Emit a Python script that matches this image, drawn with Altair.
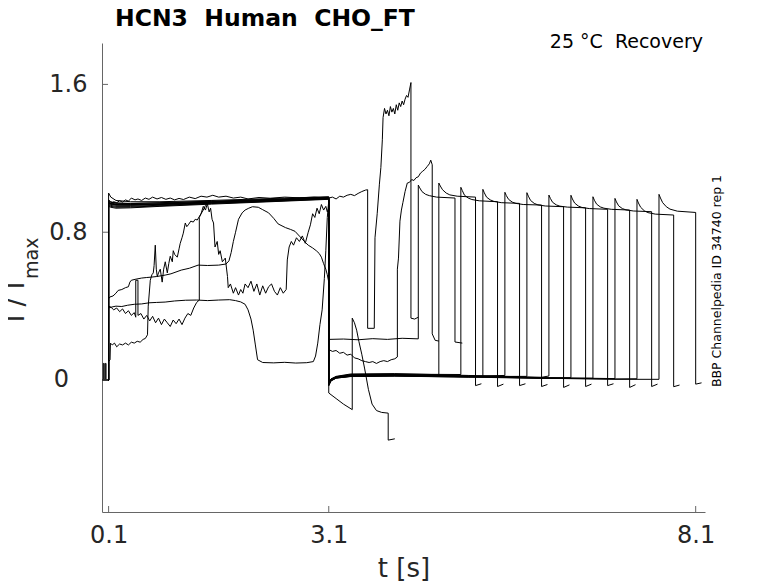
import altair as alt
import pandas as pd

# ---------------- axes / text ----------------
X_DOMAIN = [0.01, 8.227]
Y_DOMAIN = [-0.714, 1.824]
X_TICKS = [0.1, 3.1, 8.1]
Y_TICKS = [0.0, 0.8, 1.6]
Y_ZERO_LABEL = "0"

TITLE = "HCN3\u00a0\u00a0Human\u00a0\u00a0CHO_FT"
NOTE = "25 \u00b0C\u00a0\u00a0Recovery"
SIDE = "BBP Channelpedia ID 34740 rep 1"
X_TITLE = "t [s]"
Y_TITLE_MAIN = "I / I"
Y_TITLE_SUB = "max"

# ---------------- irregular traces (t [s], I/Imax) ----------------
TRACE_H = [(0.0, 0.0), (0.028, 0.0), (0.028, 0.09), (0.04, 0.09), (0.04, 0.0), (0.055, 0.0), (0.055, 0.09),
           (0.065, 0.09), (0.065, 0.0), (0.1, 0.0),
           (0.1, 0.96), (0.13, 0.955), (0.17, 0.965), (0.21, 0.96), (0.25, 0.97), (0.29, 0.963), (0.33, 0.975),
           (0.37, 0.968), (0.41, 0.985), (0.46, 0.975), (0.5, 0.98), (0.55, 0.972), (0.6, 0.985), (0.65, 0.978),
           (0.7, 0.99), (0.76, 0.98), (0.82, 0.988), (0.88, 0.978), (0.94, 0.985), (1.0, 0.975), (1.06, 0.983),
           (1.12, 0.977), (1.2, 0.99), (1.28, 0.982), (1.36, 0.995), (1.44, 0.99), (1.52, 1.0), (1.6, 0.99),
           (1.7, 0.995), (1.8, 0.985), (1.9, 0.99), (2.0, 0.98), (2.15, 0.988), (2.3, 0.984), (2.5, 0.99),
           (2.7, 0.986), (2.9, 0.99), (3.1, 0.985), (3.15, 0.99), (3.2, 0.98), (3.25, 0.995), (3.3, 0.99),
           (3.35, 1.0), (3.4, 1.005), (3.45, 0.998), (3.5, 1.01), (3.55, 1.02), (3.6, 1.028), (3.63, 1.03),
           (3.63, 0.28), (3.72, 0.28), (3.73, 0.77), (3.76, 0.9), (3.79, 1.06), (3.81, 1.15), (3.83, 1.3),
           (3.84, 1.42), (3.86, 1.47), (3.88, 1.44), (3.9, 1.46), (3.92, 1.43), (3.94, 1.48), (3.96, 1.45),
           (3.98, 1.47), (4.0, 1.44), (4.02, 1.49), (4.04, 1.46), (4.06, 1.5), (4.08, 1.48), (4.1, 1.51),
           (4.12, 1.49), (4.14, 1.52), (4.16, 1.54), (4.18, 1.53), (4.2, 1.57), (4.22, 1.61), (4.22, 0.335),
           (4.27, 0.33), (4.32, 0.34)]

TRACE_C = [(0.0, 0.0), (0.1, 0.0), (0.1, 0.44), (0.12, 0.45), (0.16, 0.455), (0.2, 0.47), (0.23, 0.485),
           (0.28, 0.49), (0.33, 0.5), (0.37, 0.505), (0.39, 0.53), (0.41, 0.54), (0.46, 0.545), (0.55, 0.552),
           (0.62, 0.555), (0.68, 0.557), (0.75, 0.56), (0.87, 0.568), (0.95, 0.575), (1.09, 0.595), (1.2, 0.605),
           (1.32, 0.622), (1.45, 0.62), (1.6, 0.622), (1.7, 0.628), (1.74, 0.645), (1.77, 0.69), (1.8, 0.75),
           (1.83, 0.8), (1.87, 0.87), (1.92, 0.905), (1.96, 0.92), (2.01, 0.93), (2.06, 0.938), (2.14, 0.935),
           (2.2, 0.922), (2.28, 0.905), (2.35, 0.875), (2.41, 0.845), (2.51, 0.825), (2.58, 0.815), (2.64, 0.805),
           (2.71, 0.775), (2.78, 0.745), (2.82, 0.73), (2.88, 0.715), (2.93, 0.7), (2.97, 0.685), (3.0, 0.665),
           (3.03, 0.63), (3.06, 0.6), (3.08, 0.57), (3.1, 0.53), (3.1, 0.22), (3.3, 0.222), (3.5, 0.218),
           (3.7, 0.224), (3.9, 0.22), (4.1, 0.226), (4.32, 0.223), (4.32, 1.055), (4.34, 1.04), (4.37, 1.02),
           (4.42, 1.005), (4.47, 0.998), (4.57, 0.99), (4.82, 0.985), (4.82, 0.206), (4.92, 0.2)]

TRACE_G = [(0.0, 0.0), (0.1, 0.0), (0.1, 0.39), (0.14, 0.395), (0.2, 0.4), (0.28, 0.398), (0.36, 0.405),
           (0.45, 0.41), (0.55, 0.412), (0.65, 0.418), (0.75, 0.42), (0.87, 0.422), (1.0, 0.428), (1.15, 0.432),
           (1.3, 0.433), (1.45, 0.43), (1.6, 0.433), (1.75, 0.435), (1.83, 0.43), (1.9, 0.423), (1.96, 0.41),
           (2.0, 0.38), (2.04, 0.33), (2.07, 0.27), (2.1, 0.19), (2.13, 0.11), (2.2, 0.095), (2.35, 0.093),
           (2.5, 0.096), (2.65, 0.092), (2.8, 0.094), (2.89, 0.1), (2.92, 0.13), (2.95, 0.2), (2.98, 0.3),
           (3.01, 0.38), (3.04, 0.55), (3.06, 0.7), (3.08, 0.88), (3.1, 0.97), (3.1, -0.07), (3.2, -0.1),
           (3.3, -0.13), (3.42, -0.16), (3.42, 0.335), (3.45, 0.31), (3.48, 0.27), (3.51, 0.21), (3.55, 0.14),
           (3.59, 0.06), (3.64, -0.05), (3.69, -0.13), (3.75, -0.165), (3.82, -0.175), (3.91, -0.179),
           (3.91, -0.325), (4.0, -0.318)]

TRACE_B = [(0.0, 0.0), (0.1, 0.0), (0.1, 0.4), (0.13, 0.395), (0.17, 0.38), (0.21, 0.39), (0.25, 0.37),
           (0.29, 0.385), (0.33, 0.36), (0.37, 0.375), (0.41, 0.35), (0.45, 0.365), (0.47, 0.34), (0.47, 0.54),
           (0.5, 0.54), (0.5, 0.35), (0.54, 0.36), (0.58, 0.33), (0.62, 0.35), (0.66, 0.32), (0.7, 0.345),
           (0.74, 0.31), (0.78, 0.335), (0.82, 0.3), (0.86, 0.33), (0.9, 0.31), (0.94, 0.29), (0.98, 0.325),
           (1.02, 0.305), (1.06, 0.33), (1.1, 0.3), (1.14, 0.335), (1.18, 0.36), (1.22, 0.35), (1.26, 0.39),
           (1.3, 0.42), (1.336, 0.433), (1.336, 0.88), (1.36, 0.9), (1.39, 0.94), (1.42, 0.92), (1.445, 0.955),
           (1.47, 0.91), (1.49, 0.93), (1.51, 0.87), (1.53, 0.85), (1.55, 0.72), (1.58, 0.75), (1.6, 0.68),
           (1.62, 0.7), (1.65, 0.64), (1.69, 0.66), (1.72, 0.56), (1.73, 0.5), (1.76, 0.52), (1.8, 0.47),
           (1.83, 0.5), (1.87, 0.46), (1.9, 0.49), (1.93, 0.47), (1.96, 0.52), (2.0, 0.5), (2.04, 0.535),
           (2.08, 0.48), (2.12, 0.52), (2.16, 0.46), (2.2, 0.51), (2.24, 0.47), (2.28, 0.505), (2.32, 0.52),
           (2.36, 0.48), (2.4, 0.46), (2.44, 0.5), (2.48, 0.47), (2.52, 0.49), (2.535, 0.65), (2.56, 0.72),
           (2.59, 0.75), (2.62, 0.73), (2.66, 0.77), (2.7, 0.75), (2.74, 0.78), (2.78, 0.74), (2.82, 0.8),
           (2.85, 0.84), (2.88, 0.9), (2.91, 0.88), (2.94, 0.93), (2.97, 0.9), (3.0, 0.95), (3.03, 0.92),
           (3.06, 0.94), (3.08, 0.91), (3.1, 0.93), (3.1, 0.165), (3.15, 0.155), (3.2, 0.16), (3.25, 0.145),
           (3.3, 0.15), (3.35, 0.135), (3.4, 0.14), (3.45, 0.12), (3.5, 0.115), (3.55, 0.105), (3.6, 0.1),
           (3.65, 0.095), (3.7, 0.1), (3.75, 0.09), (3.8, 0.1), (3.85, 0.105), (3.9, 0.1), (3.95, 0.11),
           (4.0, 0.115), (4.035, 0.125), (4.035, 0.6), (4.05, 0.66), (4.07, 0.86), (4.09, 0.92), (4.11, 0.96),
           (4.14, 1.02), (4.17, 1.066), (4.2, 1.07), (4.23, 1.085), (4.26, 1.08), (4.29, 1.095), (4.32, 1.1),
           (4.35, 1.12), (4.38, 1.13), (4.41, 1.14), (4.44, 1.155), (4.47, 1.17), (4.49, 1.19), (4.51, 1.165),
           (4.51, 0.25), (4.55, 0.215), (4.6, 0.211)]

# first pulse of the noisy trace that later behaves like a regular one
TRACE_DF_FIRST = [(0.0, 0.0), (0.1, 0.0), (0.1, 0.1), (0.12, 0.11), (0.125, 0.2), (0.15, 0.19), (0.18, 0.2),
                  (0.21, 0.18), (0.25, 0.195), (0.29, 0.19), (0.33, 0.2), (0.37, 0.19), (0.41, 0.205),
                  (0.45, 0.2), (0.49, 0.21), (0.53, 0.205), (0.57, 0.22), (0.6, 0.225), (0.63, 0.245),
                  (0.64, 0.4), (0.668, 0.54), (0.69, 0.57), (0.709, 0.58), (0.72, 0.62), (0.736, 0.73),
                  (0.75, 0.6), (0.763, 0.56), (0.78, 0.58), (0.804, 0.6), (0.83, 0.53), (0.85, 0.6),
                  (0.872, 0.64), (0.9, 0.58), (0.92, 0.63), (0.94, 0.67), (0.968, 0.64), (0.981, 0.7),
                  (1.0, 0.68), (1.036, 0.665), (1.06, 0.71), (1.076, 0.74), (1.1, 0.77), (1.118, 0.795),
                  (1.145, 0.85), (1.165, 0.83), (1.186, 0.84), (1.22, 0.86), (1.254, 0.855), (1.28, 0.87),
                  (1.308, 0.866), (1.349, 0.893), (1.39, 0.92), (1.42, 0.945), (1.445, 0.96), (1.49, 0.97),
                  (1.6, 0.965), (1.8, 0.97), (2.1, 0.975), (2.5, 0.978), (2.9, 0.982), (3.1, 0.985)]

# ---------------- regular recovery traces ----------------
FIRST_T = [0.1, 0.13, 0.2, 0.4, 0.8, 1.5, 2.3, 3.1]
REG_FIRST = [
    [0.96, 0.955, 0.95, 0.948, 0.952, 0.962, 0.972, 0.985],
    [0.95, 0.945, 0.94, 0.94, 0.946, 0.957, 0.968, 0.982],
    [0.97, 0.962, 0.957, 0.955, 0.958, 0.966, 0.975, 0.988],
    [0.945, 0.94, 0.935, 0.936, 0.943, 0.955, 0.967, 0.98],
    [0.955, 0.95, 0.946, 0.946, 0.95, 0.96, 0.97, 0.984],
    [0.965, 0.958, 0.952, 0.95, 0.954, 0.963, 0.973, 0.986],
    [0.94, 0.935, 0.93, 0.932, 0.94, 0.952, 0.965, 0.978],
    [0.96, 0.953, 0.948, 0.947, 0.951, 0.96, 0.971, 0.984],
    [0.975, 0.965, 0.958, 0.956, 0.96, 0.968, 0.978, 0.99],
    [1.012, 0.99, 0.972, 0.965, 0.965, 0.972, 0.982, 0.992],
]
BASE_T = [3.1, 3.13, 3.2, 3.4, 4.0, 5.0, 6.0, 7.0]
REG_BASE = [
    [-0.02, 0.0, 0.015, 0.025, 0.028, 0.02, 0.012, 0.006],
    [-0.01, 0.005, 0.018, 0.03, 0.032, 0.022, 0.013, 0.007],
    [-0.03, -0.005, 0.01, 0.02, 0.022, 0.016, 0.01, 0.005],
    [-0.015, 0.003, 0.016, 0.027, 0.03, 0.021, 0.013, 0.006],
    [-0.025, -0.002, 0.012, 0.022, 0.026, 0.019, 0.011, 0.006],
    [-0.01, 0.006, 0.02, 0.033, 0.035, 0.025, 0.015, 0.008],
    [-0.02, 0.0, 0.014, 0.024, 0.027, 0.02, 0.012, 0.006],
    [-0.03, -0.004, 0.011, 0.019, 0.021, 0.016, 0.009, 0.005],
    [-0.015, 0.004, 0.017, 0.028, 0.03, 0.022, 0.013, 0.007],
    [-0.02, 0.001, 0.014, 0.023, 0.025, 0.018, 0.011, 0.006],
    [-0.025, -0.002, 0.012, 0.021, 0.024, 0.018, 0.01, 0.004],
]
REG_RISE = [4.6, 4.9, 5.2, 5.5, 5.8, 6.1, 6.4, 6.7, 7.0, 7.3, 7.6]
REG_PRE = [0.024, 0.03, 0.019, 0.025, 0.02, 0.022, 0.013, 0.01, 0.008, 0.007, 0.004]
DECAY_DT = [0.0, 0.02, 0.05, 0.1, 0.15, 0.25, 0.5]
REG_DECAY = [
    [1.066, 1.05, 1.03, 1.012, 1.002, 0.995, 0.99],
    [1.043, 1.025, 1.0, 0.985, 0.977, 0.97, 0.965],
    [1.032, 1.013, 0.99, 0.975, 0.967, 0.96, 0.956],
    [1.016, 0.998, 0.978, 0.963, 0.956, 0.95, 0.947],
    [1.014, 0.995, 0.972, 0.956, 0.948, 0.942, 0.938],
    [1.001, 0.983, 0.962, 0.948, 0.941, 0.936, 0.932],
    [1.0, 0.98, 0.958, 0.942, 0.934, 0.928, 0.924],
    [0.992, 0.973, 0.952, 0.937, 0.93, 0.924, 0.92],
    [0.983, 0.964, 0.943, 0.928, 0.921, 0.915, 0.911],
    [0.978, 0.958, 0.935, 0.916, 0.906, 0.898, 0.893],
    [1.005, 0.985, 0.96, 0.938, 0.925, 0.914, 0.907],
]
TAIL_DT = 0.08
REG_TAIL0 = [-0.03, -0.035, -0.03, -0.035, -0.04, -0.035, -0.03, -0.04, -0.035, -0.036, -0.022]
REG_TAIL1 = [-0.02, -0.022, -0.02, -0.024, -0.026, -0.022, -0.02, -0.025, -0.022, -0.027, -0.015]

# ---------------- build table ----------------
rows = []


def add(name, pts):
    for i, (t, v) in enumerate(pts):
        rows.append({"trace": name, "i": i, "t": t, "I": v})


add("H", TRACE_H)
add("C", TRACE_C)
add("G", TRACE_G)
add("B", TRACE_B)

for k in range(len(REG_RISE)):
    if k == 0:
        pts = list(TRACE_DF_FIRST)
    else:
        pts = [(0.0, 0.0), (0.1, 0.0)] + list(zip(FIRST_T, REG_FIRST[k - 1]))
    pts += [(t, v) for t, v in zip(BASE_T, REG_BASE[k]) if t < REG_RISE[k]]
    pts.append((REG_RISE[k], REG_PRE[k]))
    pts += [(REG_RISE[k] + dt, v) for dt, v in zip(DECAY_DT, REG_DECAY[k])]
    fall = REG_RISE[k] + DECAY_DT[-1]
    pts += [(fall, REG_TAIL0[k]), (fall + TAIL_DT, REG_TAIL1[k])]
    add(f"R{k}", pts)

df = pd.DataFrame(rows)

# ---------------- chart ----------------
W, H = 603, 469
AXIS_GRAY = "#666666"
LABEL_COL = "#262626"
FONT = "DejaVu Sans"

xscale = alt.Scale(domain=X_DOMAIN, nice=False, zero=False)
yscale = alt.Scale(domain=Y_DOMAIN, nice=False, zero=False)
xaxis = alt.Axis(values=X_TICKS, format=".1f", title=X_TITLE, ticks=False,
                 labelPadding=11, titlePadding=8, labelFlush=False)
yaxis = alt.Axis(values=Y_TICKS, ticks=False, title=None, labelPadding=15, labelFlush=False,
                 labelExpr="datum.value == 0 ? '' : format(datum.value, '.1f')")

lines = alt.Chart(df).mark_line(color="black", strokeWidth=1, clip=True).encode(
    x=alt.X("t:Q", scale=xscale, axis=xaxis),
    y=alt.Y("I:Q", scale=yscale, axis=yaxis),
    detail="trace:N",
    order="i:Q",
)

xticks = alt.Chart(pd.DataFrame({"t": X_TICKS})).mark_rule(color=AXIS_GRAY, strokeWidth=1).encode(
    x=alt.X("t:Q", scale=xscale, axis=xaxis), y=alt.value(H), y2=alt.value(H - 6))
yticks = alt.Chart(pd.DataFrame({"I": Y_TICKS})).mark_rule(color=AXIS_GRAY, strokeWidth=1).encode(
    y=alt.Y("I:Q", scale=yscale, axis=yaxis), x=alt.value(0), x2=alt.value(6))

# the "0" tick label sits further left than the other two in the reference
zero_label = alt.Chart(pd.DataFrame({"I": Y_TICKS[:1], "s": [Y_ZERO_LABEL]})).mark_text(
    font=FONT, fontSize=24, color=LABEL_COL, align="right", baseline="middle").encode(
    y=alt.Y("I:Q", scale=yscale, axis=yaxis), x=alt.value(-33), text="s:N")


def label(text, x, y, **kw):
    return alt.Chart(pd.DataFrame({"s": [text]})).mark_text(font=FONT, **kw).encode(
        text="s:N", x=alt.value(x), y=alt.value(y))


title = label(TITLE, 13, -17, align="left", baseline="alphabetic", fontSize=23.5, fontWeight="bold",
              color="black")
note = label(NOTE, 601, 5, align="right", baseline="alphabetic", fontSize=19, color="black")
side = label(SIDE, 615, 238, align="center", baseline="middle", fontSize=12.5, angle=270, color="black")
ytitle_main = label(Y_TITLE_MAIN, -78, 259, align="center", baseline="alphabetic", fontSize=26, angle=270,
                    color=LABEL_COL)
ytitle_sub = label(Y_TITLE_SUB, -64, 236, align="left", baseline="alphabetic", fontSize=19, angle=270,
                   color=LABEL_COL)

chart = alt.layer(lines, xticks, yticks, zero_label, title, note, side, ytitle_main, ytitle_sub).properties(
    width=W, height=H,
    autosize=alt.AutoSizeParams(type="none"),
    padding={"left": 94, "top": 35, "right": 60, "bottom": 70},
).configure_view(stroke=None).configure_axis(
    grid=False, domainColor=AXIS_GRAY, domainWidth=1,
    labelFont=FONT, labelFontSize=24, labelColor=LABEL_COL,
    titleFont=FONT, titleFontSize=26, titleFontWeight="normal", titleColor=LABEL_COL,
)

chart.save("out.html", embed_options={"renderer": "svg", "actions": False})
